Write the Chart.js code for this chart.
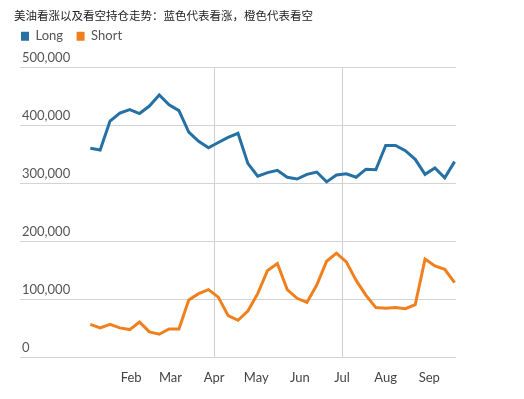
<!DOCTYPE html>
<html>
<head>
<meta charset="utf-8">
<script src="https://cdn.jsdelivr.net/npm/chart.js@4.4.0/dist/chart.umd.min.js"></script>
<style>
  html, body { margin: 0; padding: 0; background: #fff; }
</style>
</head>
<body>
<canvas id="chart" width="524" height="399"></canvas>
<script>
// weekly report dates (Tuesdays)
const weekDates = [
  '2017-01-03', '2017-01-10', '2017-01-17', '2017-01-24', '2017-01-31',
  '2017-02-07', '2017-02-14', '2017-02-21', '2017-02-28',
  '2017-03-07', '2017-03-14', '2017-03-21', '2017-03-28',
  '2017-04-04', '2017-04-11', '2017-04-18', '2017-04-25',
  '2017-05-02', '2017-05-09', '2017-05-16', '2017-05-23', '2017-05-30',
  '2017-06-06', '2017-06-13', '2017-06-20', '2017-06-27',
  '2017-07-04', '2017-07-11', '2017-07-18', '2017-07-25',
  '2017-08-01', '2017-08-08', '2017-08-15', '2017-08-22', '2017-08-29',
  '2017-09-05', '2017-09-12', '2017-09-19'
];
const longPositions = [
  361000, 358000, 408000, 422000, 428000, 421000, 434000, 453000, 436000,
  426000, 389000, 373000, 362000, 371000, 380000, 387000, 335000, 313000,
  319000, 323000, 311000, 308000, 316000, 320000, 303000, 315000, 317000,
  311000, 325000, 324000, 366000, 366000, 357000, 342000, 316000, 327000,
  310000, 338000
];
const shortPositions = [
  57000, 51000, 57000, 51000, 48000, 61000, 44000, 40000, 49000,
  49000, 99000, 110000, 117000, 104000, 72000, 64000, 80000, 110000,
  150000, 162000, 117000, 102000, 95000, 125000, 166000, 180000, 165000,
  133000, 107000, 86000, 85000, 86000, 84000, 91000, 170000, 158000,
  152000, 129000
];
const monthStarts = ['2017-02-01', '2017-03-01', '2017-04-01', '2017-05-01',
  '2017-06-01', '2017-07-01', '2017-08-01', '2017-09-01'];
const monthLabels = ['Feb', 'Mar', 'Apr', 'May', 'Jun', 'Jul', 'Aug', 'Sep'];
const quarterLines = ['2017-04-01', '2017-07-01'];

// days since 1 Jan 2017
function dayOf(s) {
  const p = s.split('-').map(Number);
  return (Date.UTC(p[0], p[1] - 1, p[2]) - Date.UTC(2017, 0, 1)) / 86400000;
}

const monthDays = monthStarts.map(dayOf);
const quarterDays = quarterLines.map(dayOf);

const legendGap = {
  id: 'legendGap',
  beforeInit(chart) {
    const fit = chart.legend.fit;
    chart.legend.fit = function () {
      fit.call(this);
      this.height += 15;
    };
  }
};

const ctx = document.getElementById('chart').getContext('2d');
const chart = new Chart(ctx, {
  type: 'line',
  data: {
    datasets: [
      {
        label: 'Long',
        data: weekDates.map((d, i) => ({ x: dayOf(d), y: longPositions[i] })),
        borderColor: '#2671a3',
        backgroundColor: '#2671a3',
        borderWidth: 3,
        pointRadius: 0,
        tension: 0
      },
      {
        label: 'Short',
        data: weekDates.map((d, i) => ({ x: dayOf(d), y: shortPositions[i] })),
        borderColor: '#f0801e',
        backgroundColor: '#f0801e',
        borderWidth: 3,
        pointRadius: 0,
        tension: 0
      }
    ]
  },
  options: {
    responsive: false,
    animation: false,
    layout: {
      padding: { left: 14, right: 68, top: 0, bottom: 0 }
    },
    scales: {
      x: {
        type: 'linear',
        min: -48,
        max: 262,
        afterBuildTicks: function (scale) {
          scale.ticks = monthDays.map(v => ({ value: v }));
        },
        border: { display: false },
        grid: {
          drawTicks: false,
          color: function (c) {
            return quarterDays.includes(c.tick && c.tick.value) ? '#cfcfcf' : 'rgba(0,0,0,0)';
          }
        },
        ticks: {
          autoSkip: false,
          maxRotation: 0,
          padding: 13,
          color: '#444',
          font: { family: 'Lato', size: 13 },
          callback: function (value) {
            const i = monthDays.indexOf(value);
            return i >= 0 ? monthLabels[i] : '';
          }
        }
      },
      y: {
        min: 0,
        max: 500000,
        afterFit: function (axis) { axis.width = 6; },
        border: { display: false },
        grid: { drawTicks: false, color: '#d4d4d4' },
        ticks: {
          stepSize: 100000,
          mirror: true,
          padding: 2,
          labelOffset: -10,
          color: '#555',
          font: { family: 'Lato', size: 13 },
          callback: function (value) {
            return value.toLocaleString('en-US');
          }
        }
      }
    },
    plugins: {
      title: {
        display: true,
        text: '美油看涨以及看空持仓走势：蓝色代表看涨，橙色代表看空',
        align: 'start',
        color: '#222',
        font: { family: 'Noto Sans CJK SC', size: 11.5, weight: 'normal' },
        padding: { top: 9, bottom: 0 }
      },
      legend: {
        display: true,
        align: 'start',
        labels: {
          boxWidth: 8,
          boxHeight: 9,
          padding: 7,
          color: '#555',
          font: { family: 'Lato', size: 13 },
          generateLabels: function (chart) {
            const items = Chart.defaults.plugins.legend.labels.generateLabels(chart);
            items.forEach(function (it) {
              it.text = it.text + '\u2002';
              it.lineWidth = 0;
            });
            return items;
          }
        }
      },
      tooltip: { enabled: false }
    }
  },
  plugins: [legendGap]
});
</script>
</body>
</html>
